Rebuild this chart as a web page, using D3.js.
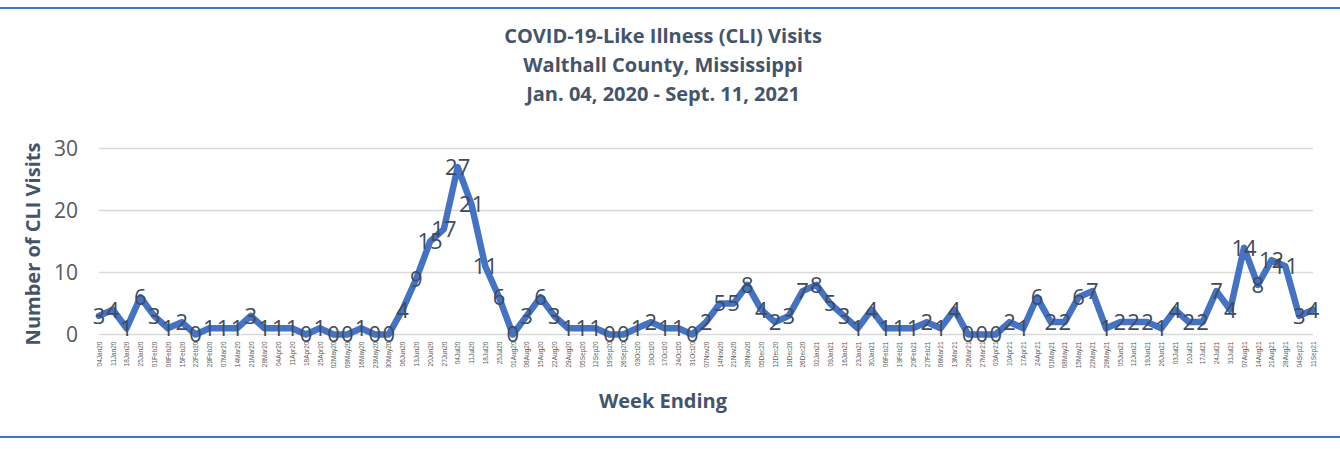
<!DOCTYPE html>
<html>
<head>
<meta charset="utf-8">
<script src="https://cdn.jsdelivr.net/npm/d3@7"></script>
<style>
html,body{margin:0;padding:0;background:#fff;}
svg{display:block;}
</style>
</head>
<body>
<svg id="chart" width="1340" height="449"></svg>
<script>
const titleLines = ["COVID-19-Like Illness (CLI) Visits", "Walthall County, Mississippi", "Jan. 04, 2020 - Sept. 11, 2021"];
const yAxisTitle = "Number of CLI Visits";
const xAxisTitle = "Week Ending";
const weeks = ["04Jan20","11Jan20","18Jan20","25Jan20","01Feb20","08Feb20","15Feb20","22Feb20","29Feb20","07Mar20","14Mar20","21Mar20","28Mar20","04Apr20","11Apr20","18Apr20","25Apr20","02May20","09May20","16May20","23May20","30May20","06Jun20","13Jun20","20Jun20","27Jun20","04Jul20","11Jul20","18Jul20","25Jul20","01Aug20","08Aug20","15Aug20","22Aug20","29Aug20","05Sep20","12Sep20","19Sep20","26Sep20","03Oct20","10Oct20","17Oct20","24Oct20","31Oct20","07Nov20","14Nov20","21Nov20","28Nov20","05Dec20","12Dec20","19Dec20","26Dec20","02Jan21","09Jan21","16Jan21","23Jan21","30Jan21","06Feb21","13Feb21","20Feb21","27Feb21","06Mar21","13Mar21","20Mar21","27Mar21","03Apr21","10Apr21","17Apr21","24Apr21","01May21","08May21","15May21","22May21","29May21","05Jun21","12Jun21","19Jun21","26Jun21","03Jul21","10Jul21","17Jul21","24Jul21","31Jul21","07Aug21","14Aug21","21Aug21","28Aug21","04Sep21","11Sep21"];
const visits = [3,4,1,6,3,1,2,0,1,1,1,3,1,1,1,0,1,0,0,1,0,0,4,9,15,17,27,21,11,6,0,3,6,3,1,1,1,0,0,1,2,1,1,0,2,5,5,8,4,2,3,7,8,5,3,1,4,1,1,1,2,1,4,0,0,0,2,1,6,2,2,6,7,1,2,2,2,1,4,2,2,7,4,14,8,12,11,3,4];
const yTicks = [0,10,20,30];

const svg = d3.select("#chart");
const W = 1340, H = 449;
const pLeft = 99, pRight = 1313, pTop = 148.5, pBottom = 334.5;

// border lines
svg.append("line").attr("x1",0).attr("x2",W).attr("y1",8).attr("y2",8).attr("stroke","#4472C4").attr("stroke-width",2);
svg.append("line").attr("x1",0).attr("x2",W).attr("y1",437).attr("y2",437).attr("stroke","#4472C4").attr("stroke-width",2);

const x = d3.scalePoint().domain(weeks).range([pLeft, pRight]);
const y = d3.scaleLinear().domain([0,30]).range([pBottom, pTop]);

// gridlines
svg.append("g").selectAll("line").data(yTicks).join("line")
  .attr("x1", pLeft).attr("x2", pRight)
  .attr("y1", d => y(d)).attr("y2", d => y(d))
  .attr("stroke", "#D9D9D9").attr("stroke-width", 1.5);

// y axis labels
const yAxis = d3.axisLeft(y).tickValues(yTicks).tickSize(0).tickPadding(0);
const gy = svg.append("g").attr("transform", `translate(${pLeft-21},0)`).call(yAxis);
gy.select(".domain").remove();
gy.selectAll("text").attr("font-family","'Open Sans', sans-serif").attr("font-size",21).attr("fill","#595959").attr("dy","0.35em");

// x axis labels
const xAxis = d3.axisBottom(x).tickSize(0).tickPadding(0);
const gx = svg.append("g").attr("transform", `translate(0,${pBottom+6})`).call(xAxis);
gx.select(".domain").remove();
gx.selectAll("text")
  .attr("font-family","'Liberation Sans', Arial, sans-serif").attr("font-size",6.5).attr("fill","#595959")
  .attr("transform","rotate(-90)").attr("text-anchor","end").attr("x",-1).attr("y",0).attr("dy","0.35em");

// line
const line = d3.line().x((d,i) => x(weeks[i])).y(d => y(d));
svg.append("path").datum(visits).attr("d", line)
  .attr("fill","none").attr("stroke","#4472C4").attr("stroke-width",6.5)
  .attr("stroke-linejoin","round").attr("stroke-linecap","round");

// data labels
svg.append("g").selectAll("text").data(visits).join("text")
  .attr("x",(d,i)=>x(weeks[i])).attr("y",d=>y(d))
  .attr("dy","0.36em").attr("text-anchor","middle")
  .attr("font-family","'Open Sans', sans-serif").attr("font-size",22)
  .attr("fill","#404B5A").text(d=>d);

// titles
svg.append("g").selectAll("text").data(titleLines).join("text")
  .attr("x", 663).attr("y",(d,i)=>43 + i*29)
  .attr("text-anchor","middle").attr("font-family","'Open Sans', sans-serif")
  .attr("font-weight","bold").attr("font-size",20).attr("fill","#44546A").text(d=>d);

svg.append("text").attr("transform","translate(40,244) rotate(-90)")
  .attr("text-anchor","middle").attr("font-family","'Open Sans', sans-serif")
  .attr("font-weight","bold").attr("font-size",20).attr("fill","#44546A").text(yAxisTitle);

svg.append("text").attr("x",663).attr("y",408)
  .attr("text-anchor","middle").attr("font-family","'Open Sans', sans-serif")
  .attr("font-weight","bold").attr("font-size",20).attr("fill","#44546A").text(xAxisTitle);
</script>
</body>
</html>
